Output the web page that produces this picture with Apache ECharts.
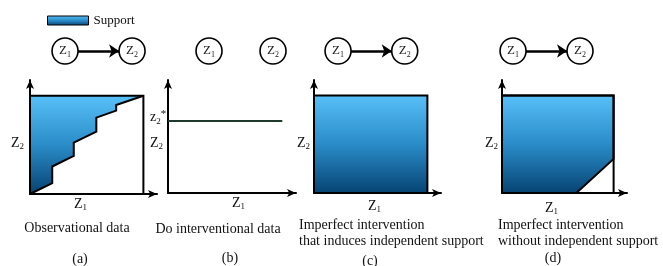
<!DOCTYPE html>
<html>
<head>
<meta charset="utf-8">
<script src="https://cdn.jsdelivr.net/npm/echarts@6/dist/echarts.min.js"></script>
<style>
  html, body { margin: 0; padding: 0; background: #fff; }
  #chart { width: 663px; height: 266px; }
</style>
</head>
<body>
<div id="chart"></div>
<script>
// support regions in unit square coordinates (Z1, Z2)
const obsSupport = [[0, 0], [0.196, 0.111], [0.196, 0.28], [0.386, 0.389], [0.386, 0.524],
  [0.585, 0.635], [0.585, 0.777], [0.76, 0.848], [0.76, 0.905], [1, 1], [0, 1]]
const obsBoundary = [[0, 0], [0.196, 0.111], [0.196, 0.28], [0.386, 0.389], [0.386, 0.524],
  [0.585, 0.635], [0.585, 0.777], [0.76, 0.848], [0.76, 0.905], [1, 1]]
const doLine = [[0, 0.74], [1, 0.74]]
const fullSupport = [[0, 0], [1, 0], [1, 1], [0, 1]]
const cutSupport = [[0, 0], [0.666, 0], [1, 0.35], [1, 1], [0, 1]]
const unitBox = [[0, 0], [1, 0], [1, 1], [0, 1]]
// DAG node positions (x in panel axis units) and edges
const dagNodes = [
  [{ name: 'Z1', x: 0.309 }, { name: 'Z2', x: 0.9 }],
  [{ name: 'Z1', x: 0.359 }, { name: 'Z2', x: 0.919 }],
  [{ name: 'Z1', x: 0.212 }, { name: 'Z2', x: 0.8 }],
  [{ name: 'Z1', x: 0.099 }, { name: 'Z2', x: 0.699 }]
]
const dagEdges = [true, false, true, true]
const captions = [
  ['Observational data'],
  ['Do interventional data'],
  ['Imperfect intervention', 'that induces independent support'],
  ['Imperfect intervention', 'without independent support']
]
const panelTags = ['(a)', '(b)', '(c)', '(d)']

const chart = echarts.init(document.getElementById('chart'))
const FONT = 'Liberation Serif'
const XMAX = 1.12
const YMAX = 1.16

const panels = [
  { left: 30, top: 80, width: 127, height: 114 },
  { left: 168, top: 80, width: 128, height: 113 },
  { left: 314, top: 80, width: 127, height: 113 },
  { left: 502, top: 80, width: 125, height: 113 }
]

function fill () {
  return new echarts.graphic.LinearGradient(0, 0, 0, 1, [
    { offset: 0, color: '#58c0f8' },
    { offset: 0.5, color: '#2a8cc8' },
    { offset: 1, color: '#064272' }
  ])
}

// polygon drawn through the grid's own axes
function polySeries (idx, pts, opts) {
  return {
    type: 'custom',
    name: opts.name,
    xAxisIndex: idx,
    yAxisIndex: idx,
    data: pts,
    silent: true,
    z: opts.z || 2,
    renderItem (params, api) {
      if (params.dataIndex !== 0) return null
      const points = pts.map(p => api.coord(p))
      return {
        type: opts.closed === false ? 'polyline' : 'polygon',
        shape: { points },
        style: {
          fill: opts.fill || 'none',
          stroke: opts.stroke || 'none',
          lineWidth: opts.lineWidth || 2
        }
      }
    }
  }
}

const grids = []
const xAxes = []
const yAxes = []
const series = []

panels.forEach((p, i) => {
  grids.push({ left: p.left, top: p.top, width: p.width, height: p.height })
  const axisLine = {
    show: true,
    symbol: ['none', 'arrow'],
    symbolSize: [6, 9],
    lineStyle: { color: '#000', width: 2 }
  }
  xAxes.push({ type: 'value', gridIndex: i, min: 0, max: XMAX, axisLine,
    axisTick: { show: false }, axisLabel: { show: false }, splitLine: { show: false } })
  yAxes.push({ type: 'value', gridIndex: i, min: 0, max: YMAX, axisLine,
    axisTick: { show: false }, axisLabel: { show: false }, splitLine: { show: false } })
})

// DAG grids
panels.forEach((p, i) => {
  grids.push({ left: p.left, top: 38, width: p.width, height: 26 })
  xAxes.push({ type: 'value', gridIndex: 4 + i, min: 0, max: XMAX, show: false })
  yAxes.push({ type: 'value', gridIndex: 4 + i, min: 0, max: 1, show: false })
})

// (a)
series.push(polySeries(0, obsSupport, { name: 'Support', fill: fill() }))
series.push(polySeries(0, obsBoundary, { closed: false, stroke: '#000', z: 3 }))
series.push(polySeries(0, unitBox, { stroke: '#000', z: 3 }))
// (b)
series.push({
  type: 'line', xAxisIndex: 1, yAxisIndex: 1, data: doLine, symbol: 'none',
  lineStyle: { color: '#1f3a2c', width: 2 }, silent: true
})
// (c)
series.push(polySeries(2, fullSupport, { fill: fill(), stroke: '#000' }))
// (d)
series.push(polySeries(3, cutSupport, { fill: fill(), stroke: '#000' }))
series.push(polySeries(3, unitBox, { stroke: '#000', z: 3 }))

// DAGs
dagNodes.forEach((nodes, i) => {
  series.push({
    type: 'graph',
    coordinateSystem: 'cartesian2d',
    xAxisIndex: 4 + i,
    yAxisIndex: 4 + i,
    silent: true,
    symbol: 'circle',
    symbolSize: 26,
    itemStyle: { color: '#fff', borderColor: '#000', borderWidth: 1.6 },
    label: {
      show: true,
      position: 'inside',
      formatter: p => '{z|Z}{s|' + p.name.slice(1) + '}',
      rich: {
        z: { fontFamily: FONT, fontSize: 13, color: '#222' },
        s: { fontFamily: FONT, fontSize: 8, color: '#222', padding: [7, 0, 0, 0] }
      }
    },
    edgeSymbol: ['none', 'arrow'],
    edgeSymbolSize: 10,
    lineStyle: { color: '#000', width: 2.5, opacity: 1 },
    data: nodes.map(n => ({ name: n.name, value: [n.x, 0.5] })),
    links: dagEdges[i] ? [{ source: 'Z1', target: 'Z2' }] : []
  })
})

function zText (letter, sub, x, y, extra) {
  return {
    type: 'text', left: x, top: y,
    style: {
      text: '{z|' + letter + '}{s|' + sub + '}' + (extra ? '{e|' + extra + '}' : ''),
      rich: {
        z: { fontFamily: FONT, fontSize: 14, fill: '#111' },
        s: { fontFamily: FONT, fontSize: 9, fill: '#111', padding: [8, 0, 0, 0] },
        e: { fontFamily: FONT, fontSize: 11, fill: '#111', padding: [0, 0, 6, 0] }
      }
    }
  }
}

const graphics = [
  zText('Z', '2', 11, 136), zText('Z', '1', 74, 197),
  zText('Z', '2', 150, 136), zText('z', '2', 150, 109, '*'), zText('Z', '1', 232, 196),
  zText('Z', '2', 297, 136), zText('Z', '1', 368, 199),
  zText('Z', '2', 485, 136), zText('Z', '1', 545, 201)
]

const capPos = [
  { x: 77, y: 228, align: 'center' },
  { x: 218, y: 229, align: 'center' },
  { x: 299, y: 225, align: 'left' },
  { x: 498, y: 225, align: 'left' }
]
captions.forEach((lines, i) => {
  lines.forEach((t, j) => {
    graphics.push({
      type: 'text', x: capPos[i].x, y: capPos[i].y + j * 16,
      style: { text: t, fontFamily: FONT, fontSize: 14, fill: '#111', align: capPos[i].align, verticalAlign: 'middle' }
    })
  })
})
const tagPos = [[80, 259], [230, 258], [370, 261], [553, 258]]
panelTags.forEach((t, i) => {
  graphics.push({
    type: 'text', x: tagPos[i][0], y: tagPos[i][1],
    style: { text: t, fontFamily: FONT, fontSize: 14, fill: '#111', align: 'center', verticalAlign: 'middle' }
  })
})

chart.setOption({
  animation: false,
  legend: {
    left: 47,
    top: 14,
    padding: 0,
    itemWidth: 41,
    itemHeight: 9,
    itemGap: 8,
    textStyle: { fontFamily: FONT, fontSize: 13, color: '#111' },
    data: [{ name: 'Support', icon: 'rect', itemStyle: { color: fill(), borderColor: '#000', borderWidth: 1 } }]
  },
  grid: grids,
  xAxis: xAxes,
  yAxis: yAxes,
  series,
  graphic: graphics
})
</script>
</body>
</html>
